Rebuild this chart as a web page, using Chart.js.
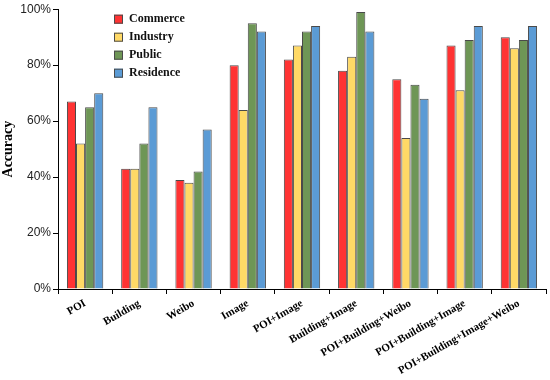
<!DOCTYPE html>
<html>
<head>
<meta charset="utf-8">
<script src="https://cdn.jsdelivr.net/npm/chart.js@4/dist/chart.umd.min.js"></script>
<style>
  html, body { margin: 0; padding: 0; background: #fff; }
  #wrap { width: 550px; height: 380px; }
</style>
</head>
<body>
<div id="wrap"><canvas id="chart"></canvas></div>
<script>
// categorias y valores
const categorias = ['POI', 'Building', 'Weibo', 'Image', 'POI+Image', 'Building+Image',
  'POI+Building+Weibo', 'POI+Building+Image', 'POI+Building+Image+Weibo'];
const commerce = [67, 43, 39, 80, 82, 78, 75, 87, 90];
const industry = [52, 43, 38, 64, 87, 83, 54, 71, 86];
const publico = [65, 52, 42, 95, 92, 99, 73, 89, 89];
const residence = [70, 65, 57, 92, 94, 92, 68, 94, 94];
const ticksY = [0, 20, 40, 60, 80, 100];

const serie = (label, data, color) => ({
  label, data,
  backgroundColor: color,
  borderColor: '#4a4a4a',
  borderWidth: 1,
  categoryPercentage: 0.67,
  barPercentage: 1
});

// leyenda dibujada dentro del area del grafico
const leyendaInterna = {
  id: 'leyendaInterna',
  afterDraw(chart) {
    const ctx = chart.ctx;
    const x0 = chart.chartArea.left + 56;
    let y = chart.chartArea.top + 10;
    ctx.save();
    ctx.font = 'bold 12px "Liberation Serif", "Times New Roman", serif';
    ctx.textBaseline = 'middle';
    chart.data.datasets.forEach(ds => {
      ctx.fillStyle = ds.backgroundColor;
      ctx.fillRect(x0, y - 4.5, 9, 9);
      ctx.strokeStyle = '#4a4a4a';
      ctx.lineWidth = 1;
      ctx.strokeRect(x0 + 0.5, y - 4, 8, 8);
      ctx.fillStyle = '#111';
      ctx.fillText(ds.label, x0 + 15, y);
      y += 18;
    });
    ctx.restore();
  }
};

new Chart(document.getElementById('chart'), {
  type: 'bar',
  data: {
    labels: categorias,
    datasets: [
      serie('Commerce', commerce, '#ff3333'),
      serie('Industry', industry, '#ffd966'),
      serie('Public', publico, '#6e9656'),
      serie('Residence', residence, '#5b9bd5')
    ]
  },
  options: {
    responsive: true,
    maintainAspectRatio: false,
    animation: false,
    layout: { padding: { top: 8, right: 4, left: 0, bottom: 0 } },
    plugins: {
      legend: { display: false },
      tooltip: { enabled: false }
    },
    scales: {
      x: {
        grid: { drawOnChartArea: false, color: '#000', tickLength: 5, offset: true },
        border: { color: '#000', width: 1 },
        ticks: {
          color: '#000',
          minRotation: 30,
          maxRotation: 30,
          autoSkip: false,
          font: { family: '"Liberation Serif", "Times New Roman", serif', weight: 'bold', size: 11 }
        },
        afterFit: s => { s.height = 91; }
      },
      y: {
        min: 0,
        max: 100,
        afterBuildTicks: s => { s.ticks = ticksY.map(v => ({ value: v })); },
        grid: { drawOnChartArea: false, color: '#000', tickLength: 5 },
        border: { color: '#000', width: 1 },
        ticks: {
          color: '#222',
          padding: 2,
          callback: v => v + '%',
          font: { family: '"Liberation Sans", Arial, sans-serif', size: 12 }
        },
        title: {
          display: true,
          text: 'Accuracy',
          color: '#000',
          padding: { top: 0, bottom: 4 },
          font: { family: '"Liberation Serif", "Times New Roman", serif', weight: 'bold', size: 14 }
        },
        afterFit: s => { s.width = 58; }
      }
    }
  },
  plugins: [leyendaInterna]
});
</script>
</body>
</html>
